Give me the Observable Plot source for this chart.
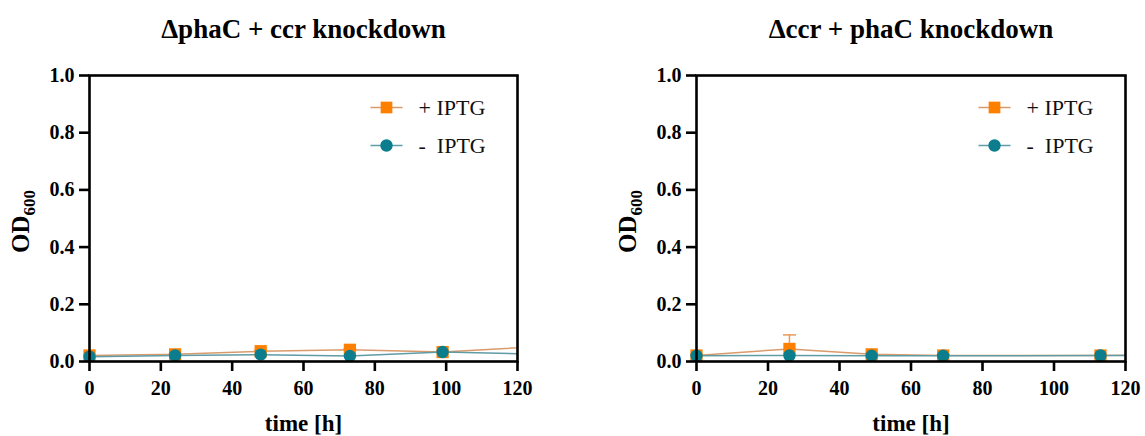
<!DOCTYPE html>
<html>
<head>
<meta charset="utf-8">
<script src="https://cdn.jsdelivr.net/npm/d3@7"></script>
<script src="https://cdn.jsdelivr.net/npm/@observablehq/plot@0.6"></script>
<style>
  html, body { margin: 0; padding: 0; background: #fff; }
  #wrap { display: flex; width: 1145px; height: 436px; }
  #wrap svg, #wrap svg text, #wrap svg tspan { font-family: "Liberation Serif", "Times New Roman", serif !important; }
</style>
</head>
<body>
<div id="wrap"></div>
<script>
// ---- data ----
const titles = ["\u0394phaC + ccr knockdown", "\u0394ccr + phaC knockdown"];
const seriesNames = ["+ IPTG", "-\u00a0\u00a0IPTG"];
const xTicks = [0, 20, 40, 60, 80, 100, 120];
const yTicks = [0, 0.2, 0.4, 0.6, 0.8, 1.0];

// left panel (ΔphaC + ccr knockdown); last point lies beyond the 120 h axis end
const hoursL = [0, 24, 48, 73, 99, 144];
const plusL = [0.021, 0.025, 0.036, 0.041, 0.033, 0.065];
const plusSdL = [0.002, 0.003, 0.003, 0.003, 0.003, 0.003];
const minusL = [0.017, 0.021, 0.024, 0.019, 0.033, 0.020];
const minusSdL = [0.002, 0.002, 0.002, 0.002, 0.003, 0.002];

// right panel (Δccr + phaC knockdown)
const hoursR = [0, 26, 49, 69, 113, 144];
const plusR = [0.021, 0.044, 0.025, 0.021, 0.021, 0.024];
const plusSdR = [0.003, 0.049, 0.004, 0.003, 0.003, 0.003];
const minusR = [0.020, 0.021, 0.020, 0.020, 0.021, 0.022];
const minusSdR = [0.002, 0.002, 0.002, 0.002, 0.002, 0.002];

// ---- styling ----
const orange = "#FF8000", orangeLine = "#D99B6B", orangeErr = "#E9995C";
const teal = "#0B7D8C", tealLine = "#5F9CA6";
const serif = "Liberation Serif";

const hline = {
  draw(context, size) {
    const r = Math.sqrt(size / Math.PI);
    context.moveTo(-r, 0);
    context.lineTo(r, 0);
  }
};

function panel({title, hours, plus, plusSd, minus, minusSd, width, marginLeft, marginRight}) {
  const P = hours.map((t, i) => ({t, od: plus[i], sd: plusSd[i]}));
  const M = hours.map((t, i) => ({t, od: minus[i], sd: minusSd[i]}));
  const inAxis = d => d.t <= 120;
  const txt = {fontFamily: serif, fill: "#000"};
  const plot = Plot.plot({
    width, height: 436,
    marginLeft, marginRight, marginTop: 75, marginBottom: 75,
    style: {fontFamily: serif, fontSize: "20px", fontWeight: "bold", color: "#000", background: "#fff"},
    x: {domain: [0, 120], ticks: xTicks, label: null},
    y: {domain: [0, 1], ticks: yTicks, label: null},
    marks: [
      Plot.line(P, {x: "t", y: "od", stroke: orangeLine, strokeWidth: 1.5, clip: true}),
      Plot.line(M, {x: "t", y: "od", stroke: tealLine, strokeWidth: 1.5, clip: true}),
      Plot.ruleX(P.filter(inAxis), {x: "t", y1: d => d.od - d.sd, y2: d => d.od + d.sd, stroke: orangeErr, strokeWidth: 1.5, clip: true}),
      Plot.dot(P.filter(inAxis), {x: "t", y: d => d.od + d.sd, symbol: hline, r: 6.5, stroke: orangeErr, strokeWidth: 1.5, fill: "none"}),
      Plot.dot(P.filter(inAxis), {x: "t", y: "od", symbol: "square", r: 6.9, fill: orange}),
      Plot.dot(M.filter(inAxis), {x: "t", y: "od", symbol: "circle", r: 6.2, fill: teal}),
      Plot.frame({stroke: "#000", strokeWidth: 2.6}),
      Plot.axisX({ticks: xTicks, label: null, tickSize: 10, tickPadding: 9, strokeWidth: 2.6, fontSize: 20, fontWeight: "bold", fontFamily: serif, tickFormat: d => d}),
      Plot.axisY({ticks: yTicks, label: null, tickSize: 10, tickPadding: 5, strokeWidth: 2.6, fontSize: 20, fontWeight: "bold", fontFamily: serif, tickFormat: d3.format(".1f")}),
      // title, axis labels
      Plot.text([title], {...txt, frameAnchor: "top", lineAnchor: "middle", dy: -46, fontSize: 27, fontWeight: "bold"}),
      Plot.text(["time [h]"], {...txt, frameAnchor: "bottom", lineAnchor: "middle", dy: 62, fontSize: 23, fontWeight: "bold"}),
      Plot.text(["OD600"], {...txt, frameAnchor: "left", textAnchor: "middle", lineAnchor: "middle", dx: -69, dy: 3, rotate: -90, fontSize: 25, fontWeight: "bold"}),
      // legend
      Plot.dot([0], {frameAnchor: "top-right", dx: -131, dy: 32, symbol: hline, r: 16, stroke: orangeLine, strokeWidth: 1.5, fill: "none"}),
      Plot.dot([0], {frameAnchor: "top-right", dx: -131, dy: 32, symbol: "square", r: 6.6, fill: orange}),
      Plot.dot([0], {frameAnchor: "top-right", dx: -131, dy: 70, symbol: hline, r: 16, stroke: tealLine, strokeWidth: 1.5, fill: "none"}),
      Plot.dot([0], {frameAnchor: "top-right", dx: -131, dy: 70, symbol: "circle", r: 6.2, fill: teal}),
      Plot.text([seriesNames[0]], {...txt, frameAnchor: "top-right", lineAnchor: "middle", dx: -99, dy: 32, textAnchor: "start", fontSize: 22, fontWeight: "normal", fill: "#111"}),
      Plot.text([seriesNames[1]], {...txt, frameAnchor: "top-right", lineAnchor: "middle", dx: -99, dy: 70, textAnchor: "start", fontSize: 22, fontWeight: "normal", fill: "#111"})
    ]
  });
  d3.select(plot).selectAll("text").each(function() {
    if (this.textContent === "OD600") {
      const t = this.querySelector("tspan") || this;
      t.textContent = "OD";
      d3.select(t).append("tspan").attr("dy", 6).attr("font-size", 17).text("600");
    }
  });
  return plot;
}

const wrap = document.getElementById("wrap");
wrap.append(panel({title: titles[0], hours: hoursL, plus: plusL, plusSd: plusSdL, minus: minusL, minusSd: minusSdL,
  width: 600, marginLeft: 89, marginRight: 83}));
wrap.append(panel({title: titles[1], hours: hoursR, plus: plusR, plusSd: plusSdR, minus: minusR, minusSd: minusSdR,
  width: 545, marginLeft: 96, marginRight: 20}));
</script>
</body>
</html>
